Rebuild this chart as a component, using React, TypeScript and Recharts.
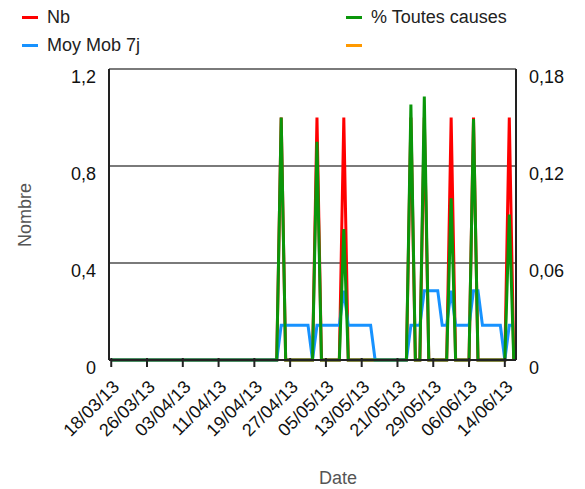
import React from "react";
import {
  CartesianGrid,
  Label,
  Line,
  LineChart,
  XAxis,
  YAxis,
} from "recharts";

// one point per day, 18/03/13 (day 0) to 16/06/13 (day 90)
const days: number[] = Array.from({ length: 91 }, (_, i) => i);

const nb: number[] = [
  0, 0, 0, 0, 0, 0, 0, 0, 0, 0,
  0, 0, 0, 0, 0, 0, 0, 0, 0, 0,
  0, 0, 0, 0, 0, 0, 0, 0, 0, 0,
  0, 0, 0, 0, 0, 0, 0, 0, 1, 0,
  0, 0, 0, 0, 0, 0, 1, 0, 0, 0,
  0, 0, 1, 0, 0, 0, 0, 0, 0, 0,
  0, 0, 0, 0, 0, 0, 0, 1, 0, 0,
  1, 0, 0, 0, 0, 0, 1, 0, 0, 0,
  0, 1, 0, 0, 0, 0, 0, 0, 0, 1,
  0,
];

const moyMob7j: number[] = [
  0, 0, 0, 0, 0, 0, 0, 0, 0, 0,
  0, 0, 0, 0, 0, 0, 0, 0, 0, 0,
  0, 0, 0, 0, 0, 0, 0, 0, 0, 0,
  0, 0, 0, 0, 0, 0, 0, 0, 0.143, 0.143,
  0.143, 0.143, 0.143, 0.143, 0.143, 0, 0.143, 0.143, 0.143, 0.143,
  0.143, 0.143, 0.286, 0.143, 0.143, 0.143, 0.143, 0.143, 0.143, 0,
  0, 0, 0, 0, 0, 0, 0, 0.143, 0.143, 0.143,
  0.286, 0.286, 0.286, 0.286, 0.143, 0.143, 0.286, 0.143, 0.143, 0.143,
  0.143, 0.286, 0.286, 0.143, 0.143, 0.143, 0.143, 0.143, 0, 0.143,
  0.143,
];

const pctToutesCauses: number[] = [
  0, 0, 0, 0, 0, 0, 0, 0, 0, 0,
  0, 0, 0, 0, 0, 0, 0, 0, 0, 0,
  0, 0, 0, 0, 0, 0, 0, 0, 0, 0,
  0, 0, 0, 0, 0, 0, 0, 0, 0.15, 0,
  0, 0, 0, 0, 0, 0, 0.135, 0, 0, 0,
  0, 0, 0.081, 0, 0, 0, 0, 0, 0, 0,
  0, 0, 0, 0, 0, 0, 0, 0.158, 0, 0,
  0.163, 0, 0, 0, 0, 0, 0.1, 0, 0, 0,
  0, 0.149, 0, 0, 0, 0, 0, 0, 0, 0.09,
  0,
];

const tickDays: number[] = [0, 8, 16, 24, 32, 40, 48, 56, 64, 72, 80, 88];
const tickLabels: string[] = [
  "18/03/13", "26/03/13", "03/04/13", "11/04/13", "19/04/13", "27/04/13",
  "05/05/13", "13/05/13", "21/05/13", "29/05/13", "06/06/13", "14/06/13",
];
const leftTicks: number[] = [0, 0.4, 0.8, 1.2];
const rightTicks: number[] = [0, 0.06, 0.12, 0.18];

const data = days.map((d, i) => ({
  day: d,
  nb: nb[i],
  moy: moyMob7j[i],
  pct: pctToutesCauses[i],
}));

const FONT = "'Liberation Sans', Arial, sans-serif";
const frFormat = (v: number) => String(v).replace(".", ",");

const DateTick = (props: any) => {
  const { x, y, payload } = props;
  const idx = tickDays.indexOf(payload.value);
  return (
    <g>
      <line x1={x} y1={y - 4} x2={x} y2={y + 5} stroke="#222" strokeWidth={2} />
      <text
        transform={`translate(${x + 9},${y + 26}) rotate(-45)`}
        textAnchor="end"
        fontSize={18}
        fontFamily={FONT}
        fill="#111"
      >
        {idx >= 0 ? tickLabels[idx] : ""}
      </text>
    </g>
  );
};

const LeftTick = (props: any) => {
  const { x, y, payload } = props;
  return (
    <text x={x - 11} y={y} dy="0.78em" textAnchor="end" fontSize={18} fontFamily={FONT} fill="#111">
      {frFormat(payload.value)}
    </text>
  );
};

const RightTick = (props: any) => {
  const { x, y, payload } = props;
  return (
    <text x={x + 11} y={y} dy="0.78em" textAnchor="start" fontSize={18} fontFamily={FONT} fill="#111">
      {frFormat(payload.value)}
    </text>
  );
};

const legendItems = [
  { name: "Nb", color: "#ff0000", left: 22, top: 17 },
  { name: "% Toutes causes", color: "#0a960a", left: 346, top: 17 },
  { name: "Moy Mob 7j", color: "#1792ff", left: 22, top: 45 },
  { name: "", color: "#ff9900", left: 346, top: 45 },
];

export default function App() {
  return (
    <div style={{ position: "absolute", left: 0, top: 0, width: 585, height: 489, background: "#fff" }}>
      {legendItems.map((it) => (
        <div
          key={it.name + it.color}
          style={{ position: "absolute", left: it.left, top: it.top - 12, height: 24, display: "flex", alignItems: "center" }}
        >
          <span style={{ display: "inline-block", width: 16, height: 3, background: it.color, marginRight: 9 }} />
          <span style={{ fontFamily: FONT, fontSize: 18, color: "#222" }}>{it.name}</span>
        </div>
      ))}
      <LineChart
        width={585}
        height={489}
        data={data}
        margin={{ top: 69, right: 0, bottom: 0, left: 0 }}
      >
        <CartesianGrid yAxisId="left" vertical={false} stroke="#7a7a7a" strokeWidth={2} />
        <XAxis
          dataKey="day"
          type="number"
          domain={[-0.5, 90.5]}
          ticks={tickDays}
          interval={0}
          allowDataOverflow
          height={129}
          tickSize={0}
          tickLine={false}
          tick={<DateTick />}
          axisLine={{ stroke: "#222", strokeWidth: 2 }}
        >
          <Label
            content={() => (
              <text x={338} y={484} textAnchor="middle" fontSize={18} fontFamily={FONT} fill="#555">
                Date
              </text>
            )}
          />
        </XAxis>
        <XAxis
          xAxisId="top"
          dataKey="day"
          type="number"
          orientation="top"
          domain={[-0.5, 90.5]}
          height={0}
          tick={false}
          tickLine={false}
          axisLine={{ stroke: "#222", strokeWidth: 2 }}
        />
        <YAxis
          yAxisId="left"
          width={109}
          domain={[0, 1.2]}
          ticks={leftTicks}
          interval={0}
          tickSize={0}
          tickLine={false}
          tick={<LeftTick />}
          axisLine={{ stroke: "#222", strokeWidth: 2 }}
        >
          <Label
            content={() => (
              <text
                x={31}
                y={215}
                transform="rotate(-90 31 215)"
                textAnchor="middle"
                fontSize={18}
                fontFamily={FONT}
                fill="#555"
              >
                Nombre
              </text>
            )}
          />
        </YAxis>
        <YAxis
          yAxisId="right"
          orientation="right"
          width={69}
          domain={[0, 0.18]}
          ticks={rightTicks}
          interval={0}
          tickSize={0}
          tickLine={false}
          tick={<RightTick />}
          axisLine={{ stroke: "#222", strokeWidth: 2 }}
        />
        <Line
          yAxisId="left"
          dataKey="nb"
          type="linear"
          stroke="#ff0000"
          strokeWidth={3}
          dot={false}
          isAnimationActive={false}
        />
        <Line
          yAxisId="left"
          dataKey="moy"
          type="linear"
          stroke="#1792ff"
          strokeWidth={3}
          dot={false}
          isAnimationActive={false}
        />
        <Line
          yAxisId="right"
          dataKey="pct"
          type="linear"
          stroke="#0a960a"
          strokeWidth={3}
          dot={false}
          isAnimationActive={false}
        />
      </LineChart>
    </div>
  );
}
